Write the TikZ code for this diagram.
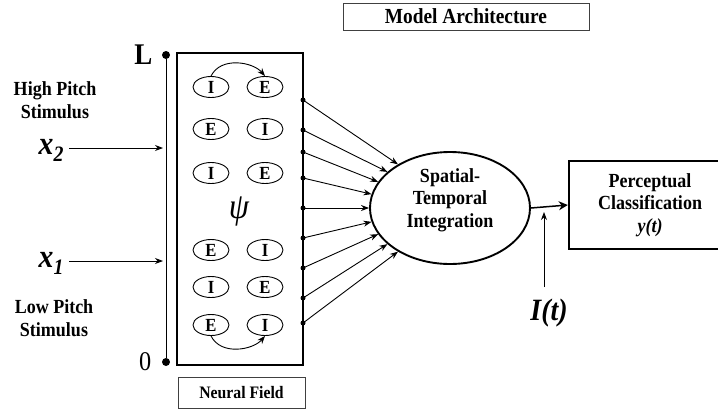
\documentclass[tikz,border=0pt]{standalone}
\usepackage{fontspec}
\setmainfont{Liberation Serif}[FakeStretch=0.9]
\usetikzlibrary{arrows.meta,positioning,shapes.geometric}

\begin{document}
\begin{tikzpicture}[x=1pt,y=-1pt,
  font=\bfseries\fontsize{20}{22.5}\selectfont,
  every node/.style={align=center},
  cell/.style={draw,ellipse,minimum width=36pt,minimum height=21pt,inner sep=0pt,
               line width=0.9pt,font=\bfseries\fontsize{18.5}{18.5}\selectfont},
  field/.style={draw,line width=2.2pt,minimum width=126pt,minimum height=312pt},
  titlebox/.style={draw,line width=1pt,draw=black!75},
  arr/.style={-{Stealth[length=8pt,width=6pt]},line width=0.9pt},
  pin/.style={circle,fill,inner sep=0pt,minimum size=8pt},
  tap/.style={circle,fill,inner sep=0pt,minimum size=5pt}
]
\useasboundingbox (0,0) rectangle (718,413);
% --- title ---
\node[titlebox,minimum width=246pt,minimum height=27pt,
      font=\bfseries\fontsize{21.5}{21.5}\selectfont] (title) at (466,16.5) {Model Architecture};
% --- neural field ---
\node[field] (nf) at (240,209) {};
\node[titlebox,minimum width=127pt,minimum height=31pt,
      font=\bfseries\fontsize{17.5}{17.5}\selectfont] (nftag) at (241.5,392.5) {Neural Field};
\foreach \y/\p/\q [count=\r] in {87/I/E,129/E/I,173/I/E,250/E/I,287/I/E,325/E/I} {
  \node[cell] (c\r1) at (211,\y) {\p};
  \node[cell] (c\r2) at (265,\y) {\q};
}
\node[font=\mdseries\itshape\fontsize{36}{36}\selectfont] (psi) at (239,211) {ψ};
\draw[arr] (c11.north) .. controls +(10,-20) and +(-12,-14) .. (c12.north);
\draw[arr] (c61.south) .. controls +(10,20) and +(-12,14) .. (c62.south);
% --- axis and inputs ---
\node[pin] (top) at (166,55) {};
\node[pin] (bot) at (166,362) {};
\draw[line width=1pt] (top) -- (bot);
\node[font=\bfseries\fontsize{30}{30}\selectfont,left=6pt of top] (lL) {L};
\node[font=\mdseries\fontsize{27}{27}\selectfont,left=7pt of bot] (l0) {0};
\node (hi) at (55,100) {High Pitch\\Stimulus};
\node (lo) at (54,318) {Low Pitch\\Stimulus};
\coordinate (in2) at (69,148);
\coordinate (in1) at (69,261);
\node[anchor=east,font=\bfseries\itshape\fontsize{33}{33}\selectfont] (x2) at (67,150)
  {x\raisebox{-7pt}{\fontsize{22}{22}\selectfont 2}};
\node[anchor=east,font=\bfseries\itshape\fontsize{33}{33}\selectfont] (x1) at (67,263)
  {x\raisebox{-7pt}{\fontsize{22}{22}\selectfont 1}};
\draw[arr] (in2) -- (in2 -| top) [shorten >=3pt];
\draw[arr] (in1) -- (in1 -| top) [shorten >=3pt];
% --- integration ---
\node[draw,ellipse,line width=1.9pt,minimum width=160pt,minimum height=112pt] (st) at (450,208) {};
\node[yshift=8pt] (sttext) at (st.center) {Spatial-\\Temporal\\Integration};
\foreach \y [count=\i, evaluate=\i as \ang using int(130+10*\i)] in
    {100,130,152,178,208,238,268,298,323} {
  \node[tap] (t\i) at (303,\y) {};
  \draw[arr] (t\i.center) -- (st.\ang);
}
% --- classification ---
\node[draw,line width=2.4pt,minimum width=162pt,minimum height=88pt] (pc) at (650,205)
  {Perceptual\\Classification\\{\itshape y(t)}};
\draw[-{Stealth[length=9pt,width=9pt]},line width=1.5pt] (st.east) -- (pc.west);
\node[font=\bfseries\itshape\fontsize{31}{31}\selectfont] (it) at (549,313) {I(t)};
\coordinate (itail) at (544,287);
\draw[arr,shorten >=7pt] (itail) -- (itail |- pc.west);
\end{tikzpicture}
\end{document}
